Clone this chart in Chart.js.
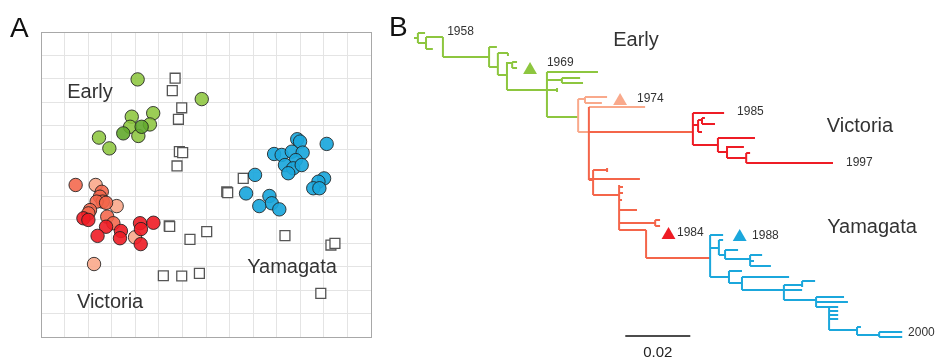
<!DOCTYPE html>
<html lang="en">
<head>
<meta charset="UTF-8">
<title>Influenza B: antigenic map and HA phylogeny</title>
<script src="https://cdn.jsdelivr.net/npm/chart.js"></script>
<style>
  body { margin: 0; background: #fff; font-family: "Liberation Sans", Arial, sans-serif; }
  #wrap { position: relative; width: 937px; height: 361px; overflow: hidden; }
  canvas { position: absolute; top: 0; }
  #mapChart { left: 0; }
  #treeChart { left: 380px; }
  .panel { position: absolute; font-size: 28px; line-height: 28px; color: #111; }
</style>
</head>
<body>
<div id="wrap">
  <canvas id="mapChart" width="380" height="361"></canvas>
  <canvas id="treeChart" width="557" height="361"></canvas>
  <div class="panel" style="left:10px; top:14px;">A</div>
  <div class="panel" style="left:389px; top:13px;">B</div>
</div>
<script>
// ---------- Panel A: antigenic map (1 grid square = 1 antigenic unit) ----------
const earlyPts = [[4.10,10.98],[6.82,10.14],[3.85,9.39],[4.76,9.54],[4.62,9.06],[3.78,8.96],[4.13,8.57],[2.46,8.50],[2.90,8.04]];
const earlyDarkPts = [[4.27,8.96],[3.49,8.68]];
const vicLightPts = [[2.32,6.48],[3.21,5.58],[2.25,3.11],[3.99,4.25]];
const vicMidPts = [[1.47,6.48],[2.58,6.19],[2.50,5.98],[2.62,5.77],[2.36,5.77],[2.76,5.72],[2.08,5.41],[2.01,5.27],[2.81,5.13],[3.07,4.85]];
const vicDarkPts = [[1.80,5.06],[2.01,4.99],[2.76,4.70],[2.40,4.31],[3.39,4.52],[3.35,4.21],[4.20,4.85],[4.24,4.60],[4.77,4.87],[4.23,3.96]];
const yamPts = [[10.87,8.43],[10.99,8.33],[12.12,8.23],[9.89,7.80],[10.21,7.76],[10.64,7.90],[11.10,7.86],[10.81,7.54],[10.35,7.33],[10.70,7.19],[11.06,7.33],[10.49,6.98],[9.08,6.91],[12.01,6.76],[11.77,6.62],[11.55,6.34],[11.81,6.34],[8.70,6.12],[9.69,6.01],[9.79,5.70],[9.26,5.58],[10.11,5.44]];
const serumPts = [[5.69,11.03],[5.57,10.50],[5.97,9.77],[5.83,9.28],[5.87,7.90],[6.01,7.86],[5.77,7.29],[8.58,6.76],[7.88,6.19],[7.92,6.15],[5.44,4.74],[5.46,4.71],[6.32,4.16],[7.03,4.49],[10.35,4.32],[12.30,3.92],[12.47,3.99],[5.19,2.61],[5.97,2.60],[6.72,2.71],[11.87,1.86]];
const mapLabels = [['Early', 2.08, 10.44], ['Victoria', 2.93, 1.49], ['Yamagata', 10.65, 2.98]];

// ---------- Panel B: HA tree, branches as [x0, y0, x1, y1] ----------
// x = divergence (0.001 subst./site from root), y = tip row
const earlyBranches = [
  [0,7.6,1.2,7.6],[1.2,6.6,1.2,8.6],[1.2,6.6,3.4,6.6],[1.2,8.6,3.7,8.6],[3.7,7.4,3.7,9.8],
  [3.7,7.4,8.9,7.4],[3.7,9.8,5.8,9.8],[8.9,7.4,8.9,11.4],[8.9,11.4,23.1,11.4],
  [23.1,9.4,23.1,13.4],[23.1,9.4,25.5,9.4],[23.1,13.4,25.8,13.4],[25.8,10.6,25.8,15],
  [25.8,10.6,28.9,10.6],[28.9,10.6,28.9,11.2],[25.8,15,28.6,15],[28.6,12.4,28.6,18],
  [28.6,12.6,30.2,12.6],[30.2,12.4,30.2,13.6],[30.2,12.4,31.7,12.4],[30.2,13.6,31.7,13.6],
  [28.6,18,40.9,18],[40.9,14.4,40.9,23.4],[40.9,14.4,56.6,14.4],[40.9,16,45.5,16],
  [45.5,15.6,45.5,16.6],[45.5,15.6,51.1,15.6],[45.5,16.6,52.0,16.6],[40.9,18,44.0,18],
  [44.0,17.6,44.0,18.4],[40.9,23.4,50.5,23.4]
];
const earlyVicBranches = [
  [50.5,19.8,50.5,26.4],[50.5,19.8,52.6,19.8],[52.6,19.4,52.6,20.6],[52.6,19.4,59.4,19.4],
  [52.6,20.6,57.8,20.6],[53.8,21.4,71.1,21.4],[50.5,26.4,53.8,26.4]
];
const ancVicBranches = [
  [53.8,21.4,53.8,36],[53.8,26.4,85.8,26.4],[53.8,35.8,69.5,35.8],[55.1,34,55.1,39],
  [53.8,36,55.1,36],[55.1,34,59.4,34],[59.4,33.6,59.4,34.4],[55.1,39,63.4,39],
  [63.1,37,63.1,46],[63.1,37.4,64.3,37.4],[63.1,38.6,64.3,38.6],[63.1,40,64.0,40],
  [63.1,42,68.6,42],[63.1,44.6,74.2,44.6],[74.2,44,74.2,45.2],[74.2,44,75.7,44],
  [74.2,45.2,75.7,45.2],[63.1,46,71.4,46],[71.4,46,71.4,51.6],[71.4,51.6,91.1,51.6]
];
const victoriaBranches = [
  [85.8,22.6,85.8,29],[85.8,22.6,95.4,22.6],[85.8,25,87.4,25],[87.4,24,87.4,26.4],
  [87.4,24,88.6,24],[88.6,23.6,88.6,24.8],[88.6,23.6,89.5,23.6],[88.6,24.8,92.6,24.8],
  [87.4,26.4,88.6,26.4],[85.8,29,93.5,29],[93.5,27.6,93.5,30.4],[93.5,27.6,104.9,27.6],
  [93.5,30.4,96.3,30.4],[96.3,29.2,96.3,31.6],[96.3,29.4,101.5,29.4],[96.3,31.6,102.2,31.6],
  [102.2,30.6,102.2,32.6],[102.2,30.6,103.4,30.6],[102.2,32.6,128.9,32.6]
];
const yamagataBranches = [
  [91.1,47,91.1,55.4],[91.1,47,95.1,47],[91.1,49.6,93.8,49.6],[93.8,48,93.8,51],
  [93.8,48,95.1,48],[93.8,51,95.7,51],[95.7,50,95.7,51.8],[95.7,50,99.7,50],
  [95.7,51.8,103.4,51.8],[103.4,51,103.4,53.2],[103.4,51,107.1,51],[103.4,52.2,104.6,52.2],
  [103.4,53.2,109.8,53.2],[91.1,55.4,96.9,55.4],[96.9,54.2,96.9,56.6],[96.9,54.2,100.9,54.2],
  [96.9,56.6,100.9,56.6],[100.9,55.4,100.9,58],[100.9,55.4,115.4,55.4],[100.9,58,113.8,58],
  [113.8,57,113.8,60],[113.8,57,119.4,57],[119.4,56.2,119.4,57.4],[119.4,56.2,123.4,56.2],
  [113.8,58,119.4,58],[113.8,60,123.7,60],[123.7,59.4,123.7,61.4],[123.7,59.4,132.3,59.4],
  [123.7,60.4,133.5,60.4],[123.7,61.4,127.7,61.4],[127.7,61.4,127.7,66],[127.7,61.4,130.5,61.4],
  [127.7,62.2,130.5,62.2],[127.7,63,130.5,63],[127.7,63.8,130.5,63.8],[127.7,66,136.3,66],
  [136.3,65.4,136.3,67],[136.3,65.4,137.5,65.4],[136.3,67,143.1,67],[143.1,66.4,143.1,67.4],
  [143.1,66.4,150.2,66.4],[143.1,67.4,150.2,67.4]
];
const vaccineMarks = [[35.7,14.0],[63.4,20.2],[78.3,47.0],[100.2,47.4]];
const yearLabels = [['1958',10.2,6.4],['1969',40.9,12.6],['1974',68.6,19.8],['1985',99.4,22.4],
  ['1997',132.9,32.6],['1984',80.9,46.6],['1988',104,47.2],['2000',152,66.6]];
const cladeLabels = [['Early',68.3,8],['Victoria',137.2,25.2],['Yamagata',140.9,45.4]];
const scaleBar = [65, 85, 67.2];  // 0.02 subst./site

const GREEN = '#8dc63f', SALMON = '#f9a98b', CORAL = '#f4654a', RED = '#ee1c25', BLUE = '#1ba7dc';

function pts(list) { return list.map(p => ({ x: p[0], y: p[1] })); }
function segs(list) {
  const out = [];
  list.forEach(s => { out.push({ x: s[0], y: s[1] }, { x: s[2], y: s[3] }, { x: null, y: null }); });
  return out;
}
function textPlugin(items) {
  return {
    id: 'texts',
    afterDatasetsDraw(chart) {
      const ctx = chart.ctx, xs = chart.scales.x, ys = chart.scales.y;
      ctx.save();
      ctx.textBaseline = 'middle';
      items.forEach(it => {
        ctx.font = it.size + 'px "Liberation Sans", Arial, sans-serif';
        ctx.fillStyle = it.color || '#333';
        ctx.textAlign = it.align || 'center';
        ctx.fillText(it.text, xs.getPixelForValue(it.x), ys.getPixelForValue(it.y));
      });
      ctx.restore();
    }
  };
}

function circleSet(list, fill) {
  return { data: pts(list), backgroundColor: fill, borderColor: 'rgba(30,30,30,0.85)', borderWidth: 1,
           pointRadius: 6.7, pointStyle: 'circle' };
}

// Panel A
new Chart(document.getElementById('mapChart'), {
  type: 'scatter',
  data: {
    datasets: [
      circleSet(yamPts, 'rgba(27,167,220,0.92)'),
      circleSet(vicDarkPts, 'rgba(238,28,37,0.9)'),
      circleSet(vicMidPts, 'rgba(244,101,74,0.88)'),
      circleSet(vicLightPts, 'rgba(249,169,139,0.9)'),
      circleSet(earlyDarkPts, 'rgba(98,168,44,0.9)'),
      circleSet(earlyPts, 'rgba(141,198,63,0.88)'),
      { data: pts(serumPts), pointStyle: 'rect', pointRadius: 7, backgroundColor: '#fff',
        borderColor: '#555', borderWidth: 1.3 }
    ]
  },
  options: {
    responsive: false, animation: false,
    layout: { autoPadding: false, padding: { left: 41, right: 9, top: 32, bottom: 24 } },
    plugins: { legend: { display: false }, tooltip: { enabled: false } },
    scales: {
      x: { min: 0, max: 14, ticks: { display: false, stepSize: 1 },
           grid: { drawTicks: false, color: c => (c.tick.value === 0 || c.tick.value === 14) ? '#a8a8a8' : '#e4e4e4', lineWidth: 1 },
           border: { color: '#a8a8a8' } },
      y: { min: 0, max: 13, ticks: { display: false, stepSize: 1 },
           grid: { drawTicks: false, color: c => (c.tick.value === 0 || c.tick.value === 13) ? '#a8a8a8' : '#e4e4e4', lineWidth: 1 },
           border: { color: '#a8a8a8' } }
    }
  },
  plugins: [textPlugin(mapLabels.map(l => ({ text: l[0], x: l[1], y: l[2], size: 20 })))]
});

// Panel B
function branchSet(list, color) {
  return { data: segs(list), showLine: true, spanGaps: false, borderColor: color, borderWidth: 2,
           pointRadius: 0, borderCapStyle: 'butt', borderJoinStyle: 'miter' };
}
const treeTexts = []
  .concat(yearLabels.map(l => ({ text: l[0], x: l[1], y: l[2], size: 12, align: 'left' })))
  .concat(cladeLabels.map(l => ({ text: l[0], x: l[1], y: l[2], size: 20 })))
  .concat([{ text: '0.02', x: (scaleBar[0] + scaleBar[1]) / 2, y: scaleBar[2] + 3.4, size: 15, color: '#222' }]);

new Chart(document.getElementById('treeChart'), {
  type: 'scatter',
  data: {
    datasets: [
      { data: pts(vaccineMarks), pointStyle: 'triangle', pointRadius: 8, borderWidth: 0,
        backgroundColor: [GREEN, SALMON, RED, BLUE] },
      branchSet(victoriaBranches, RED),
      branchSet(yamagataBranches, BLUE),
      branchSet(ancVicBranches, CORAL),
      branchSet(earlyVicBranches, SALMON),
      branchSet(earlyBranches, GREEN),
      { data: [{ x: scaleBar[0], y: scaleBar[2] }, { x: scaleBar[1], y: scaleBar[2] }], showLine: true,
        borderColor: '#111', borderWidth: 1.6, pointRadius: 0 }
    ]
  },
  options: {
    responsive: false, animation: false,
    layout: { autoPadding: false, padding: 0 },
    plugins: { legend: { display: false }, tooltip: { enabled: false } },
    scales: {
      x: { display: false, min: -10.46, max: 160.9 },
      y: { display: false, reverse: true, min: 0, max: 72.2 }
    }
  },
  plugins: [textPlugin(treeTexts)]
});
</script>
</body>
</html>
